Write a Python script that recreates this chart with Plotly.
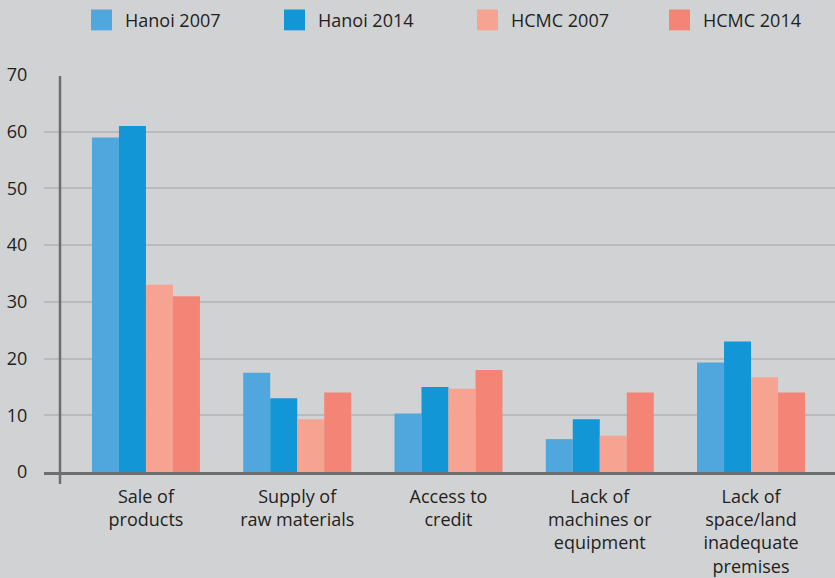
import plotly.graph_objects as go

# Categories (tick labels) and series values
categories = [
    "Sale of<br>products",
    "Supply of<br>raw materials",
    "Access to<br>credit",
    "Lack of<br>machines or<br>equipment",
    "Lack of<br>space/land<br>inadequate<br>premises",
]
series_names = ["Hanoi 2007", "Hanoi 2014", "HCMC 2007", "HCMC 2014"]
hanoi_2007 = [59, 17.5, 10.3, 5.8, 19.3]
hanoi_2014 = [61, 13, 15, 9.3, 23]
hcmc_2007 = [33, 9.3, 14.7, 6.4, 16.7]
hcmc_2014 = [31, 14, 18, 14, 14]
y_ticks = [0, 10, 20, 30, 40, 50, 60, 70]

colors = ["#4fa7dd", "#1396d6", "#f6a392", "#f48576"]
bg = "#d1d2d4"
grid = "#b9babc"
axis_col = "#6d6e70"
text_col = "#231f20"
font_family = "Open Sans, sans-serif"

W, H = 835, 578
ml, mr, mt, mb = 44, 0, 75, 103
plot_w = W - ml - mr
plot_h = H - mt - mb


def px_x(px):
    return (px - ml) / plot_w


def px_y(py):
    return (H - mb - py) / plot_h


fig = go.Figure()
for name, vals, col in zip(series_names, [hanoi_2007, hanoi_2014, hcmc_2007, hcmc_2014], colors):
    fig.add_trace(go.Bar(
        name=name, x=categories, y=vals,
        marker=dict(color=col, line=dict(width=0)),
        showlegend=False,
    ))

# Legend drawn as squares plus labels along the top
legend_sq_x = [91, 284, 477, 669]
for name, col, sx in zip(series_names, colors, legend_sq_x):
    fig.add_shape(type="rect", xref="paper", yref="paper",
                  x0=px_x(sx), x1=px_x(sx + 21), y0=px_y(30), y1=px_y(9),
                  fillcolor=col, line=dict(width=0))
    fig.add_annotation(xref="paper", yref="paper", x=px_x(sx + 32), y=px_y(20),
                       text=name, showarrow=False, xanchor="left", yanchor="middle",
                       font=dict(size=18, color=text_col, family=font_family))

# Vertical axis line crossing slightly below the baseline
fig.add_shape(type="line", xref="paper", yref="paper",
              x0=px_x(60), x1=px_x(60), y0=px_y(487), y1=px_y(76),
              line=dict(color=axis_col, width=2.5), layer="above")

fig.update_layout(
    width=W, height=H, autosize=False,
    margin=dict(l=ml, r=mr, t=mt, b=mb),
    paper_bgcolor=bg, plot_bgcolor=bg,
    barmode="group", bargap=0.286, bargroupgap=0,
    font=dict(family=font_family, color=text_col),
    xaxis=dict(
        range=[-0.674, 4.555], showgrid=False,
        showline=True, linecolor=axis_col, linewidth=3,
        ticks="outside", ticklen=6, tickcolor="rgba(0,0,0,0)",
        tickfont=dict(size=18, color=text_col),
        fixedrange=True,
    ),
    yaxis=dict(
        range=[0, 70], tickvals=y_ticks,
        showgrid=True, gridcolor=grid, gridwidth=2,
        zeroline=False, showline=False,
        ticks="outside", ticklen=12, tickcolor="rgba(0,0,0,0)",
        tickfont=dict(size=18, color=text_col),
        fixedrange=True,
    ),
)

fig.write_html("out.html")
